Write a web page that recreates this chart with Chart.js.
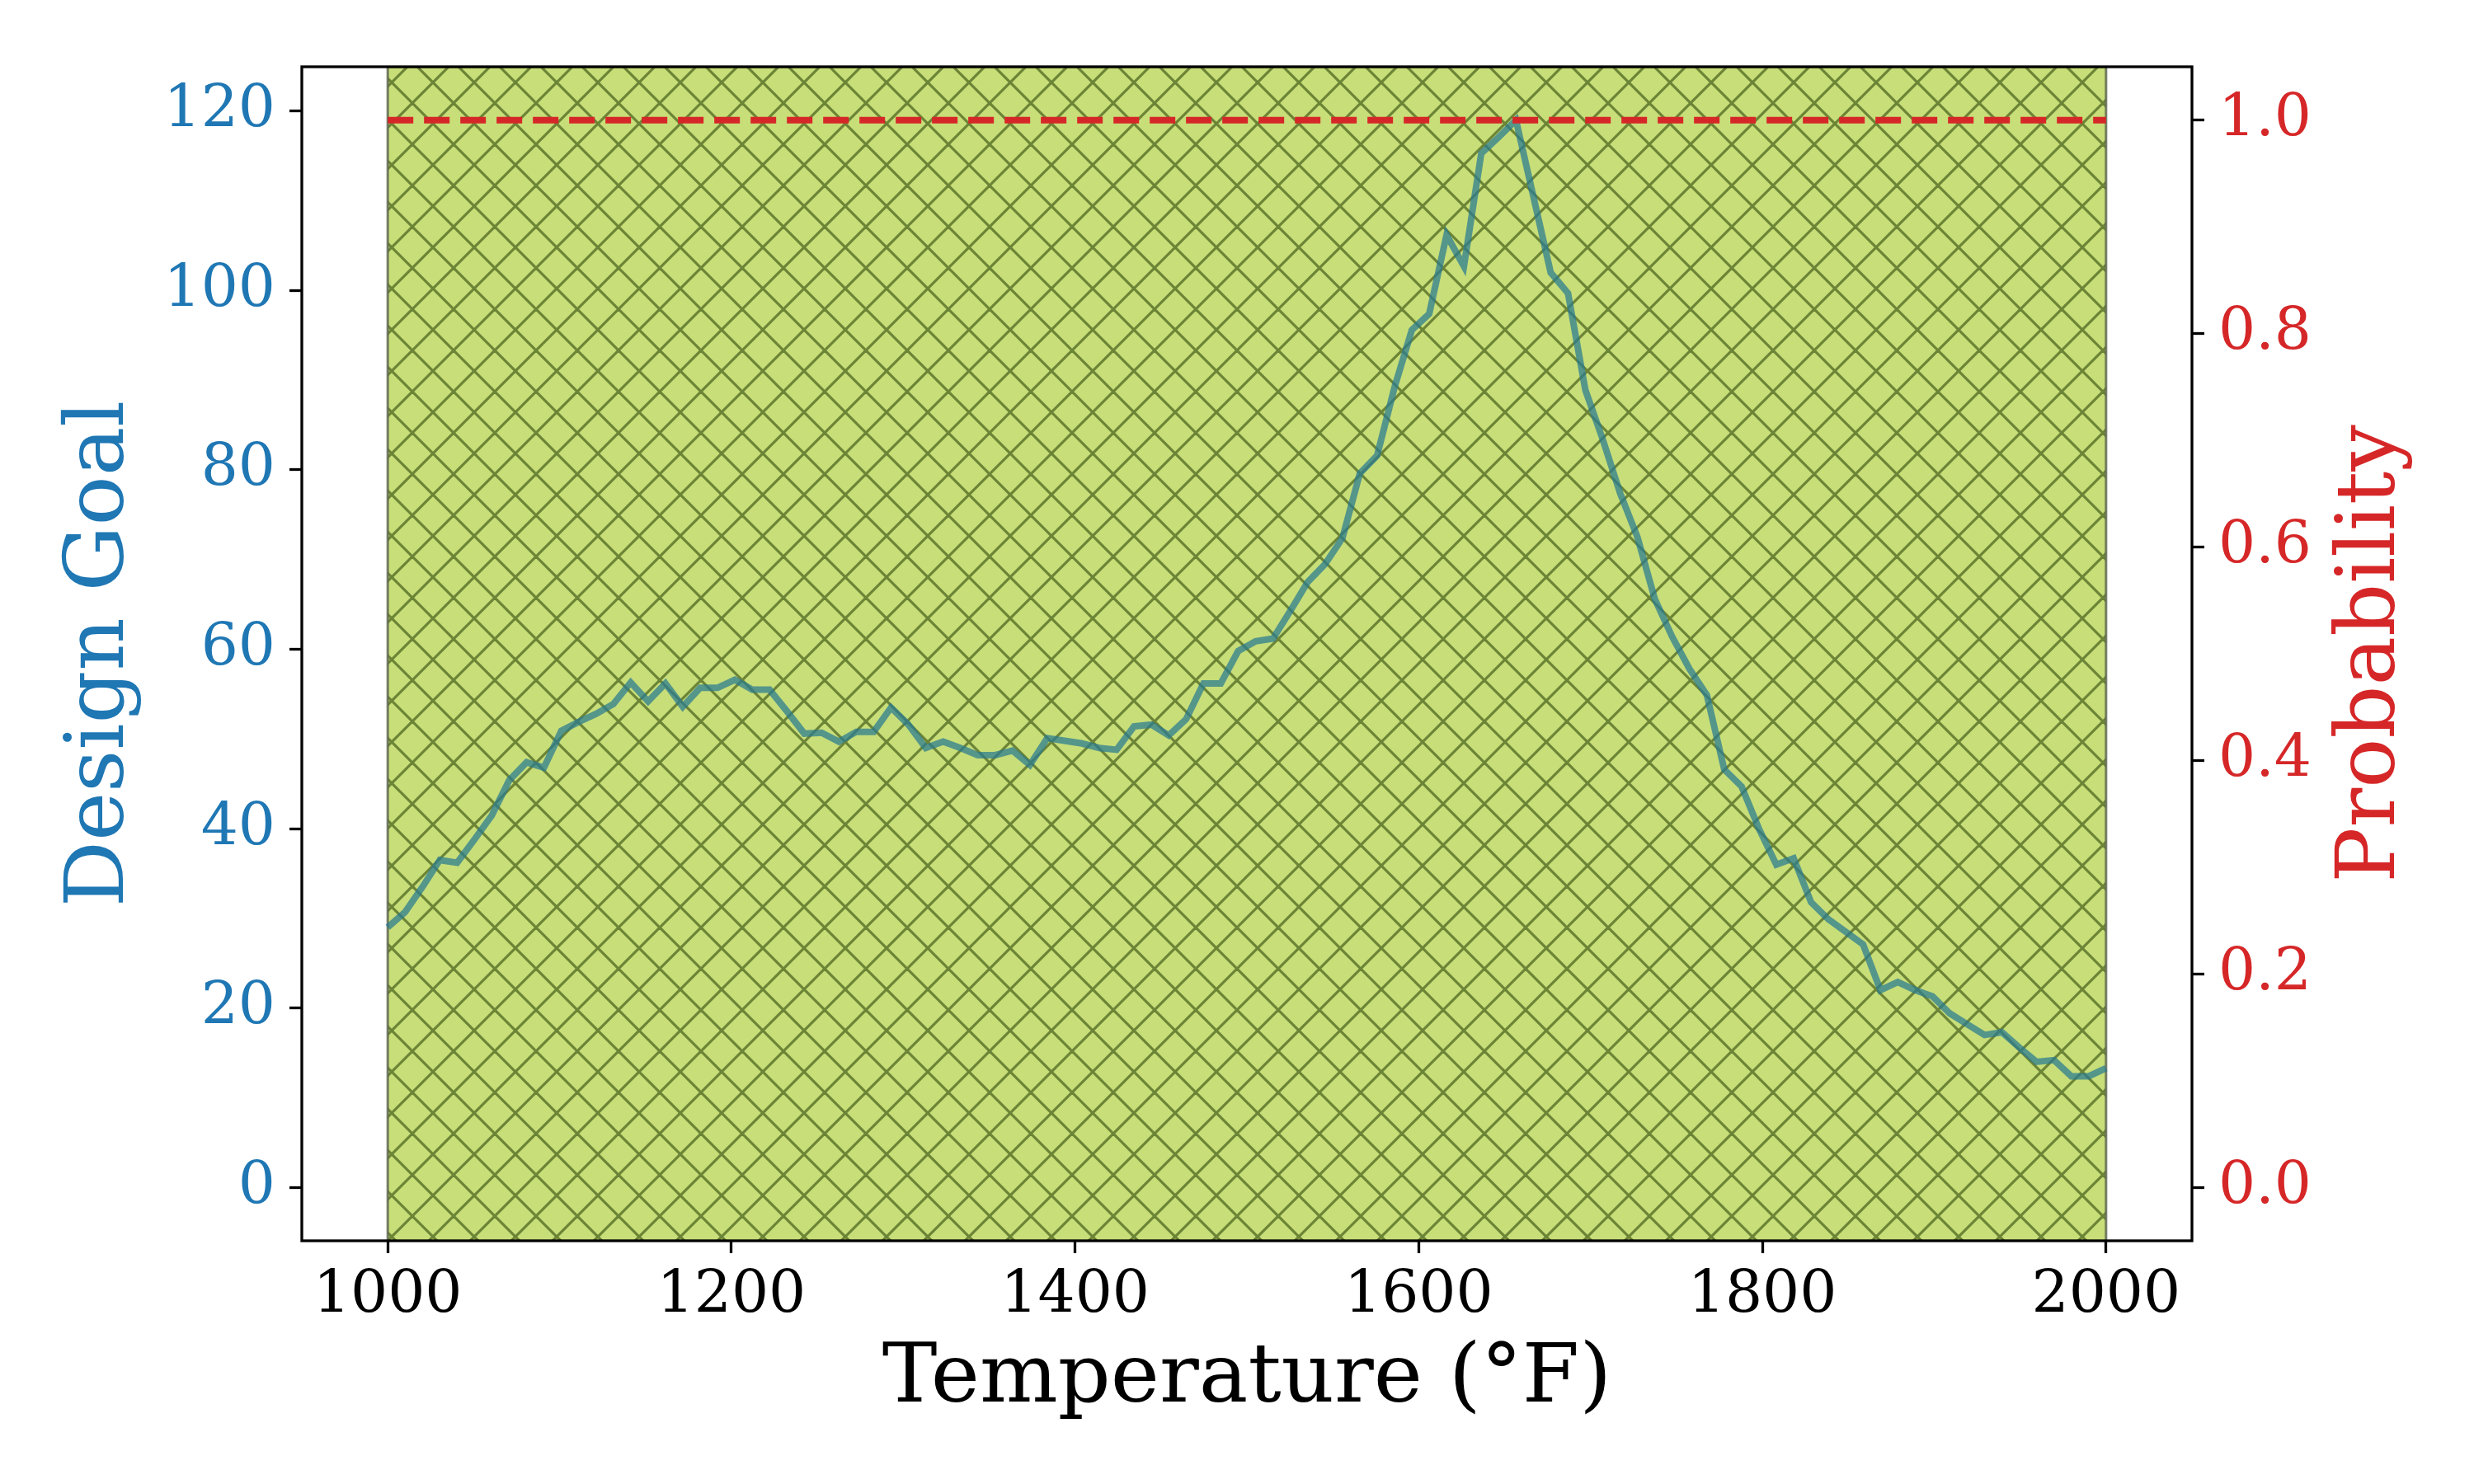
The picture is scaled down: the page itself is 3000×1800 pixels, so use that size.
<!DOCTYPE html>
<html>
<head>
<meta charset="utf-8">
<script src="https://cdn.jsdelivr.net/npm/chart.js@4.4.1/dist/chart.umd.min.js"></script>
<style>
  html, body { margin: 0; padding: 0; background: #ffffff; }
  canvas { display: block; }
</style>
</head>
<body>
<canvas id="chart" width="3000" height="1800"></canvas>
<script>
// temperatures (°F), 100 samples from 1000 to 2000
const temps = [
  1000.0, 1010.1, 1020.2, 1030.3, 1040.4, 1050.5, 1060.6, 1070.7, 1080.8, 1090.9,
  1101.0, 1111.1, 1121.2, 1131.3, 1141.4, 1151.5, 1161.6, 1171.7, 1181.8, 1191.9,
  1202.0, 1212.1, 1222.2, 1232.3, 1242.4, 1252.5, 1262.6, 1272.7, 1282.8, 1292.9,
  1303.0, 1313.1, 1323.2, 1333.3, 1343.4, 1353.5, 1363.6, 1373.7, 1383.8, 1393.9,
  1404.0, 1414.1, 1424.2, 1434.3, 1444.4, 1454.5, 1464.6, 1474.7, 1484.8, 1494.9,
  1505.1, 1515.2, 1525.3, 1535.4, 1545.5, 1555.6, 1565.7, 1575.8, 1585.9, 1596.0,
  1606.1, 1616.2, 1626.3, 1636.4, 1646.5, 1656.6, 1666.7, 1676.8, 1686.9, 1697.0,
  1707.1, 1717.2, 1727.3, 1737.4, 1747.5, 1757.6, 1767.7, 1777.8, 1787.9, 1798.0,
  1808.1, 1818.2, 1828.3, 1838.4, 1848.5, 1858.6, 1868.7, 1878.8, 1888.9, 1899.0,
  1909.1, 1919.2, 1929.3, 1939.4, 1949.5, 1959.6, 1969.7, 1979.8, 1989.9, 2000.0
];

const designGoal = [
  29.0, 30.7, 33.5, 36.5, 36.2, 38.8, 41.5, 45.4, 47.4, 46.8,
  50.9, 51.9, 52.8, 53.9, 56.3, 54.2, 56.2, 53.6, 55.7, 55.7,
  56.6, 55.5, 55.5, 53.1, 50.6, 50.7, 49.7, 50.8, 50.8, 53.5,
  51.6, 49.0, 49.7, 49.0, 48.2, 48.2, 48.7, 47.1, 50.1, 49.8,
  49.5, 49.0, 48.8, 51.4, 51.6, 50.4, 52.2, 56.2, 56.2, 59.8,
  60.9, 61.2, 64.3, 67.5, 69.5, 72.4, 79.6, 81.6, 89.2, 95.6,
  97.4, 106.2, 102.7, 115.3, 117.1, 119.0, 110.5, 102.0, 99.7, 88.9,
  83.4, 77.4, 72.5, 65.6, 61.4, 57.8, 54.9, 46.6, 44.7, 40.0,
  36.0, 36.7, 31.8, 29.9, 28.5, 27.1, 22.0, 22.9, 22.0, 21.3,
  19.4, 18.2, 17.0, 17.3, 15.6, 14.0, 14.2, 12.4, 12.4, 13.3
];

const probability = [
  1.0, 1.0, 1.0, 1.0, 1.0, 1.0, 1.0, 1.0, 1.0, 1.0,
  1.0, 1.0, 1.0, 1.0, 1.0, 1.0, 1.0, 1.0, 1.0, 1.0,
  1.0, 1.0, 1.0, 1.0, 1.0, 1.0, 1.0, 1.0, 1.0, 1.0,
  1.0, 1.0, 1.0, 1.0, 1.0, 1.0, 1.0, 1.0, 1.0, 1.0,
  1.0, 1.0, 1.0, 1.0, 1.0, 1.0, 1.0, 1.0, 1.0, 1.0,
  1.0, 1.0, 1.0, 1.0, 1.0, 1.0, 1.0, 1.0, 1.0, 1.0,
  1.0, 1.0, 1.0, 1.0, 1.0, 1.0, 1.0, 1.0, 1.0, 1.0,
  1.0, 1.0, 1.0, 1.0, 1.0, 1.0, 1.0, 1.0, 1.0, 1.0,
  1.0, 1.0, 1.0, 1.0, 1.0, 1.0, 1.0, 1.0, 1.0, 1.0,
  1.0, 1.0, 1.0, 1.0, 1.0, 1.0, 1.0, 1.0, 1.0, 1.0
];

// shaded band where probability is above 0.5
const bandStart = 1000;
const bandEnd = 2000;

const xTicks = [1000, 1200, 1400, 1600, 1800, 2000];
const yLeftTicks = [0, 20, 40, 60, 80, 100, 120];
const yRightTicks = [0.0, 0.2, 0.4, 0.6, 0.8, 1.0];

const BLUE = '#1f77b4';
const RED = '#d62728';
const SERIF = '"DejaVu Serif", serif';

// green fill with the 'x' hatch on top
function makeHatch() {
  const tile = document.createElement('canvas');
  tile.width = 50;
  tile.height = 50;
  const c = tile.getContext('2d');
  c.fillStyle = 'rgb(200,222,120)';
  c.fillRect(0, 0, 50, 50);
  c.strokeStyle = 'rgb(108,132,54)';
  c.lineWidth = 3.2;
  for (const k of [-50, 0, 50]) {
    c.beginPath(); c.moveTo(k, 0); c.lineTo(k + 50, 50); c.stroke();
    c.beginPath(); c.moveTo(k, 50); c.lineTo(k + 50, 0); c.stroke();
  }
  const pat = c.createPattern(tile, 'repeat');
  pat.setTransform(new DOMMatrix([1, 0, 0, 1, 0, 25]));
  return pat;
}

const frameAndRightTitle = {
  id: 'frameAndRightTitle',
  afterDraw(chart) {
    const { ctx, chartArea } = chart;
    ctx.save();
    ctx.strokeStyle = '#000';
    ctx.lineWidth = 3.3;
    ctx.strokeRect(chartArea.left, chartArea.top,
      chartArea.right - chartArea.left, chartArea.bottom - chartArea.top);
    // right axis label, reads bottom to top like matplotlib
    ctx.translate(2903, (chartArea.top + chartArea.bottom) / 2);
    ctx.rotate(-Math.PI / 2);
    ctx.fillStyle = RED;
    ctx.font = '100px ' + SERIF;
    ctx.textAlign = 'center';
    ctx.textBaseline = 'alphabetic';
    ctx.fillText('Probability', 0, 0);
    ctx.restore();
  }
};

const tickGrid = {
  drawOnChartArea: false,
  tickLength: 15,
  tickWidth: 3.3,
  tickColor: '#000'
};

const ctx = document.getElementById('chart').getContext('2d');

new Chart(ctx, {
  type: 'line',
  data: {
    datasets: [
      {
        label: 'band',
        data: [
          { x: bandStart, y: 0 }, { x: bandStart, y: 1 },
          { x: bandEnd, y: 1 }, { x: bandEnd, y: 0 }
        ],
        yAxisID: 'yBand',
        backgroundColor: makeHatch(),
        borderColor: 'rgba(95,105,80,0.85)',
        borderWidth: 3,
        fill: 'start',
        order: 3
      },
      {
        label: 'Design Goal',
        data: temps.map((t, i) => ({ x: t, y: designGoal[i] })),
        yAxisID: 'y',
        borderColor: 'rgba(40,122,146,0.72)',
        borderWidth: 8,
        fill: false,
        order: 2
      },
      {
        label: 'Probability',
        data: temps.map((t, i) => ({ x: t, y: probability[i] })),
        yAxisID: 'y2',
        borderColor: RED,
        borderWidth: 8,
        borderDash: [31, 13],
        fill: false,
        order: 1
      }
    ]
  },
  options: {
    responsive: false,
    animation: false,
    devicePixelRatio: 1,
    layout: { padding: { top: 81, left: 0, right: 0, bottom: 0 } },
    elements: {
      point: { radius: 0 },
      line: { tension: 0, borderCapStyle: 'butt' }
    },
    plugins: {
      legend: { display: false },
      tooltip: { enabled: false }
    },
    scales: {
      x: {
        type: 'linear',
        position: 'bottom',
        min: 950,
        max: 2050,
        afterBuildTicks: (axis) => { axis.ticks = xTicks.map(v => ({ value: v })); },
        afterFit: (scale) => { scale.height = 295; },
        grid: tickGrid,
        border: { display: false },
        ticks: {
          color: '#000',
          font: { family: SERIF, size: 71 },
          padding: 10,
          maxRotation: 0,
          autoSkip: false,
          callback: (v) => String(v)
        },
        title: {
          display: true,
          text: 'Temperature (°F)',
          color: '#000',
          font: { family: SERIF, size: 100 },
          padding: { top: 0, bottom: 66 }
        }
      },
      y: {
        type: 'linear',
        position: 'left',
        min: -5.95,
        max: 124.95,
        afterBuildTicks: (axis) => { axis.ticks = yLeftTicks.map(v => ({ value: v })); },
        afterFit: (scale) => { scale.width = 366; },
        grid: tickGrid,
        border: { display: false },
        ticks: {
          color: BLUE,
          font: { family: SERIF, size: 71 },
          padding: 17,
          callback: (v) => String(v)
        },
        title: {
          display: true,
          text: 'Design Goal',
          color: BLUE,
          font: { family: SERIF, size: 100 },
          padding: { top: 63, bottom: 0 }
        }
      },
      y2: {
        type: 'linear',
        position: 'right',
        min: -0.05,
        max: 1.05,
        afterBuildTicks: (axis) => { axis.ticks = yRightTicks.map(v => ({ value: v })); },
        afterFit: (scale) => { scale.width = 342; },
        grid: tickGrid,
        border: { display: false },
        ticks: {
          color: RED,
          font: { family: SERIF, size: 71 },
          padding: 17,
          callback: (v) => Number(v).toFixed(1)
        }
      },
      yBand: {
        type: 'linear',
        display: false,
        min: 0,
        max: 1
      }
    }
  },
  plugins: [frameAndRightTitle]
});
</script>
</body>
</html>
